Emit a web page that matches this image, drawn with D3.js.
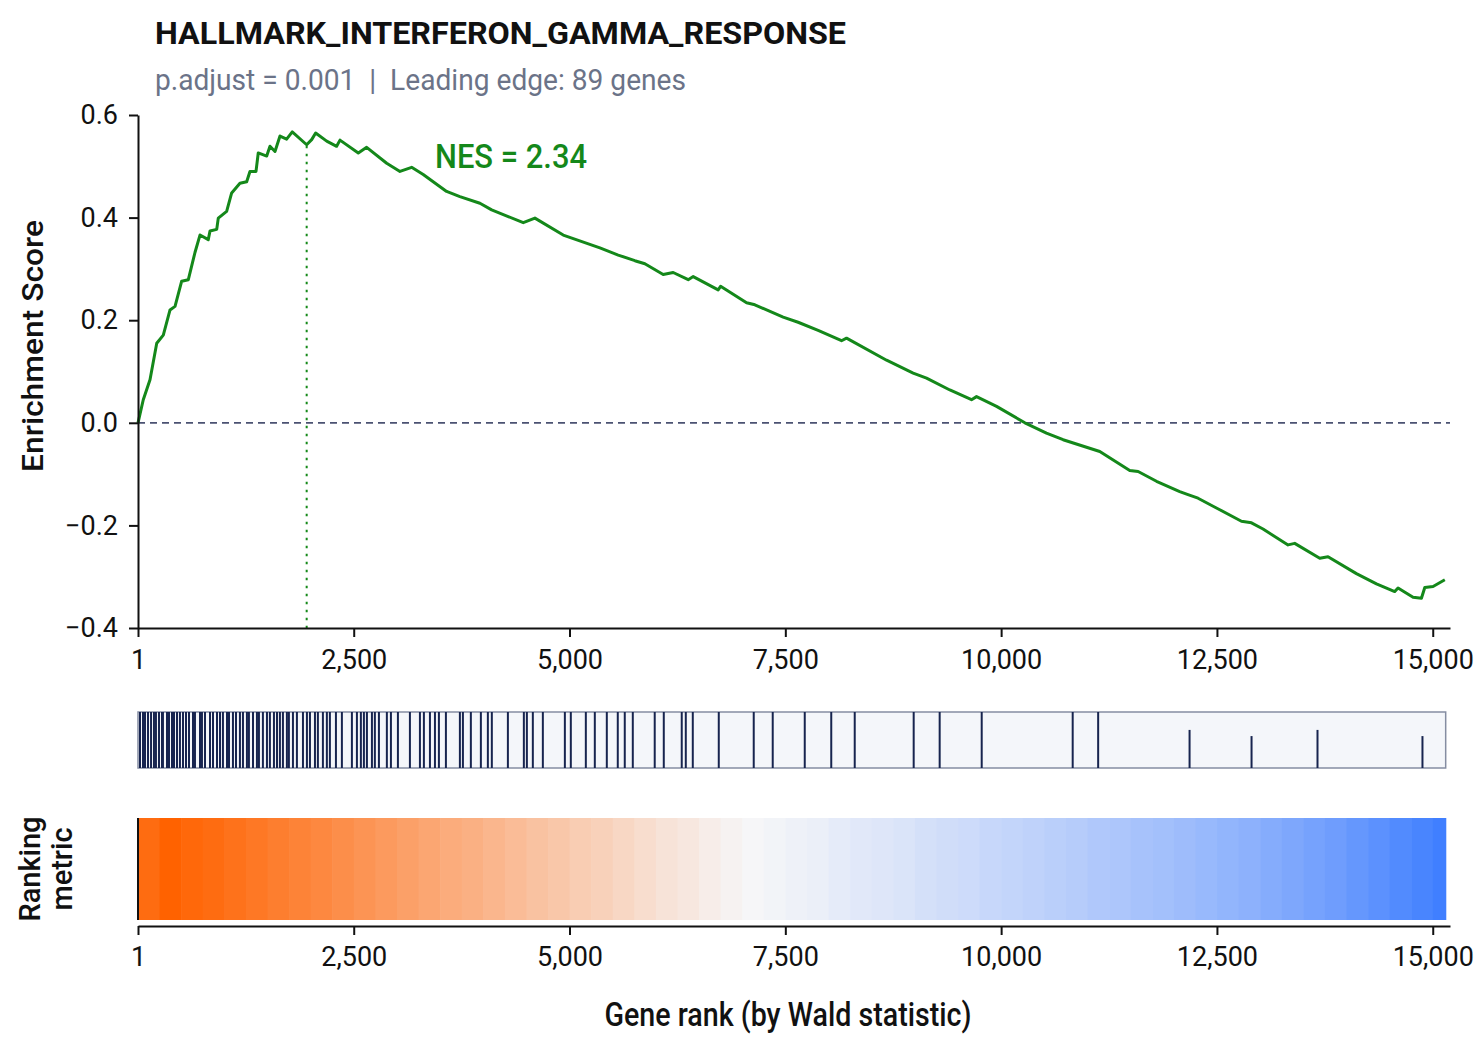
<!DOCTYPE html>
<html>
<head>
<meta charset="utf-8">
<script src="https://cdn.jsdelivr.net/npm/d3@7"></script>
<style>
  body { margin: 0; background: #ffffff; }
  svg text { fill: #111; }
</style>
</head>
<body>
<div id="vis"></div>
<script>
const FRAME_WIDTH = 1484;
const FRAME_HEIGHT = 1060;

const geneSetName = "HALLMARK_INTERFERON_GAMMA_RESPONSE";
const subtitleText = "p.adjust = 0.001  |  Leading edge: 89 genes";
const nesText = "NES = 2.34";
const nGenes = 15150;
const leadingEdgeRank = 1955;
const leadingEdgeES = 0.54;

const rankTicks = [1, 2500, 5000, 7500, 10000, 12500, 15000];
const esTicks = [-0.4, -0.2, 0, 0.2, 0.4, 0.6];

// running enrichment score
const esRank = [1, 62, 140, 218, 294, 372, 430, 507, 584, 661, 719, 815, 835, 913, 931, 1028, 1086, 1182, 1260, 1298,
  1368, 1394, 1492, 1530, 1588, 1646, 1723, 1788, 1955, 2013, 2059, 2187, 2302, 2341, 2553, 2650, 2882, 3036, 3171, 3305,
  3576, 3730, 3962, 4098, 4290, 4464, 4599, 4927, 5352, 5564, 5757, 5873, 6085, 6201, 6375, 6433, 6722, 6750, 7051, 7147,
  7475, 7648, 7880, 8151, 8209, 8673, 8981, 9136, 9406, 9657, 9715, 9947, 10275, 10525, 10718, 11143, 11490, 11587, 11800, 12069,
  12165, 12281, 12494, 12784, 12900, 13034, 13324, 13401, 13691, 13787, 14116, 14348, 14560, 14598, 14772, 14869, 14908, 15004, 15140];
const esValue = [0, 0.045, 0.084, 0.155, 0.171, 0.220, 0.227, 0.276, 0.279, 0.332, 0.366, 0.357, 0.374, 0.377, 0.399, 0.412, 0.448, 0.467, 0.470, 0.490,
  0.490, 0.526, 0.520, 0.539, 0.529, 0.559, 0.553, 0.567, 0.542, 0.552, 0.565, 0.549, 0.539, 0.551, 0.526, 0.537, 0.506, 0.490, 0.498, 0.484,
  0.451, 0.441, 0.428, 0.415, 0.402, 0.390, 0.399, 0.366, 0.341, 0.327, 0.316, 0.310, 0.289, 0.293, 0.279, 0.285, 0.259, 0.266, 0.234, 0.230,
  0.206, 0.196, 0.180, 0.160, 0.165, 0.122, 0.097, 0.087, 0.064, 0.045, 0.051, 0.032, 0.000, -0.020, -0.033, -0.056, -0.093, -0.095, -0.114, -0.134,
  -0.140, -0.147, -0.166, -0.192, -0.195, -0.207, -0.238, -0.235, -0.264, -0.261, -0.294, -0.314, -0.329, -0.322, -0.340, -0.342, -0.321, -0.319, -0.306];

// ranks of gene-set members (barcode)
const hitRanks = [24, 59, 82, 117, 152, 186, 209, 244, 279, 290, 337, 360, 395, 418, 453, 487, 522, 557, 592, 638,
  661, 719, 742, 777, 835, 870, 916, 951, 985, 1032, 1055, 1101, 1136, 1182, 1217, 1263, 1286, 1333, 1379, 1402,
  1448, 1495, 1529, 1576, 1611, 1645, 1680, 1726, 1749, 1796, 1842, 1912, 1958, 1993, 2051, 2085, 2143, 2189,
  2224, 2294, 2363, 2479, 2537, 2583, 2618, 2653, 2711, 2745, 2792, 2884, 2931, 3012, 3151, 3267, 3313, 3383,
  3441, 3487, 3568, 3730, 3765, 3857, 3973, 4054, 4100, 4286, 4471, 4506, 4575, 4691, 4946, 5015, 5189, 5293,
  5432, 5559, 5640, 5733, 5987, 6092, 6300, 6347, 6428, 6729, 7134, 7354, 7725, 8032, 8304, 8987, 9288, 9775,
  10829, 11124];
// tail members drawn as partial-height marks
const tailHitRanks = [12183, 12901, 13665, 14881];
const tailHitHeight = [0.68, 0.57, 0.68, 0.57];

// ranking metric, averaged per 250-gene bin
const metricBinSize = 250;
const metricBins = [0.93, 1.00, 0.96, 0.93, 0.89, 0.85, 0.81, 0.78, 0.74, 0.70, 0.66, 0.62, 0.58, 0.54, 0.50, 0.47,
  0.43, 0.39, 0.35, 0.32, 0.28, 0.25, 0.21, 0.17, 0.13, 0.10, 0.06, 0.03, 0.00, -0.02, -0.04, -0.06, -0.09, -0.11,
  -0.13, -0.15, -0.18, -0.20, -0.22, -0.25, -0.27, -0.29, -0.32, -0.34, -0.37, -0.39, -0.42, -0.44, -0.47, -0.50,
  -0.53, -0.56, -0.60, -0.64, -0.68, -0.72, -0.77, -0.82, -0.87, -0.92, -0.97];

const svg = d3.select("#vis")
  .append("svg")
    .attr("width", FRAME_WIDTH)
    .attr("height", FRAME_HEIGHT)
    .style("font-family", "Roboto, sans-serif");

const x = d3.scaleLinear().domain([1, 15200]).range([138, 1450]);
const y = d3.scaleLinear().domain([-0.4, 0.6]).range([628, 115]);

// titles
svg.append("text")
  .attr("x", 155).attr("y", 44)
  .attr("font-size", 32).attr("font-weight", 700)
  .attr("textLength", 691).attr("lengthAdjust", "spacingAndGlyphs")
  .text(geneSetName);

svg.append("text")
  .attr("x", 155).attr("y", 90)
  .attr("font-size", 29)
  .attr("textLength", 531).attr("lengthAdjust", "spacingAndGlyphs")
  .style("fill", "#6b7388")
  .style("white-space", "pre")
  .text(subtitleText);

// top panel: enrichment score
svg.append("line")
  .attr("x1", x(1)).attr("x2", 1450)
  .attr("y1", y(0)).attr("y2", y(0))
  .attr("stroke", "#4b5272").attr("stroke-width", 1.8)
  .attr("stroke-dasharray", "7,5");

svg.append("line")
  .attr("x1", x(leadingEdgeRank)).attr("x2", x(leadingEdgeRank))
  .attr("y1", y(leadingEdgeES)).attr("y2", y(-0.4))
  .attr("stroke", "#16891a").attr("stroke-width", 2)
  .attr("stroke-dasharray", "2.5,5.5");

const esLine = d3.line()
  .x(d => x(esRank[d]))
  .y(d => y(esValue[d]));

svg.append("path")
  .datum(d3.range(esRank.length))
  .attr("d", esLine)
  .attr("fill", "none")
  .attr("stroke", "#14881a")
  .attr("stroke-width", 3)
  .attr("stroke-linejoin", "round");

svg.append("text")
  .attr("x", 435).attr("y", 168)
  .attr("font-size", 34).attr("font-weight", 500)
  .attr("textLength", 152).attr("lengthAdjust", "spacingAndGlyphs")
  .style("fill", "#14881a")
  .text(nesText);

function styleAxis(g) {
  g.select(".domain").attr("stroke", "#111").attr("stroke-width", 2);
  g.selectAll(".tick line").attr("stroke", "#111").attr("stroke-width", 2);
  g.selectAll(".tick text")
    .style("font-family", "Roboto, sans-serif")
    .attr("font-size", 27)
    .style("fill", "#111");
}

svg.append("g")
  .attr("transform", "translate(138,0)")
  .call(d3.axisLeft(y).tickValues(esTicks).tickSize(9).tickSizeOuter(0).tickPadding(11)
    .tickFormat(d3.format(".1f")))
  .call(styleAxis);

svg.append("g")
  .attr("transform", "translate(0,628)")
  .call(d3.axisBottom(x).tickValues(rankTicks).tickSize(9).tickSizeOuter(0).tickPadding(13)
    .tickFormat(d3.format(",")))
  .call(styleAxis);

svg.append("text")
  .attr("transform", "translate(43,346) rotate(-90)")
  .attr("text-anchor", "middle")
  .attr("font-size", 30).attr("font-weight", 500)
  .attr("textLength", 252).attr("lengthAdjust", "spacingAndGlyphs")
  .text("Enrichment Score");

// middle panel: barcode of gene-set members
const BAR_TOP = 712;
const BAR_H = 56;

svg.append("rect")
  .attr("x", x(1)).attr("y", BAR_TOP)
  .attr("width", x(nGenes) - x(1)).attr("height", BAR_H)
  .attr("fill", "#f4f6fa")
  .attr("stroke", "#858da2").attr("stroke-width", 1.5);

svg.append("g")
  .selectAll("line")
  .data(hitRanks)
  .join("line")
    .attr("x1", d => x(d)).attr("x2", d => x(d))
    .attr("y1", BAR_TOP).attr("y2", BAR_TOP + BAR_H)
    .attr("stroke", "#17244f").attr("stroke-width", 2);

svg.append("g")
  .selectAll("line")
  .data(tailHitRanks)
  .join("line")
    .attr("x1", d => x(d)).attr("x2", d => x(d))
    .attr("y1", (d, i) => BAR_TOP + BAR_H * (1 - tailHitHeight[i])).attr("y2", BAR_TOP + BAR_H)
    .attr("stroke", "#17244f").attr("stroke-width", 2);

// bottom panel: ranking metric colour strip
const STRIP_TOP = 818;
const STRIP_H = 102;
const metricColor = d3.scaleLinear()
  .domain([-1, 0, 1])
  .range(["#3a7bff", "#f6f6f8", "#ff6200"]);

svg.append("g")
  .selectAll("rect")
  .data(metricBins)
  .join("rect")
    .attr("x", (d, i) => x(1 + i * metricBinSize))
    .attr("y", STRIP_TOP)
    .attr("width", (d, i) => x(Math.min(nGenes, 1 + (i + 1) * metricBinSize)) - x(1 + i * metricBinSize) + 0.6)
    .attr("height", STRIP_H)
    .attr("fill", d => metricColor(d));

svg.append("line")
  .attr("x1", 138).attr("x2", 138)
  .attr("y1", STRIP_TOP).attr("y2", STRIP_TOP + STRIP_H)
  .attr("stroke", "#111").attr("stroke-width", 2);

svg.append("g")
  .attr("transform", "translate(0,926)")
  .call(d3.axisBottom(x).tickValues(rankTicks).tickSize(9).tickSizeOuter(0).tickPadding(12)
    .tickFormat(d3.format(",")))
  .call(styleAxis);

const rankLabel = svg.append("text")
  .attr("transform", "translate(40," + (STRIP_TOP + STRIP_H / 2) + ") rotate(-90)")
  .attr("text-anchor", "middle")
  .attr("font-size", 29).attr("font-weight", 500);
rankLabel.append("tspan").attr("x", 0).attr("dy", 0).text("Ranking");
rankLabel.append("tspan").attr("x", 0).attr("dy", 32).text("metric");

svg.append("text")
  .attr("x", 788).attr("y", 1026)
  .attr("text-anchor", "middle")
  .attr("font-size", 34).attr("font-weight", 500)
  .attr("textLength", 367).attr("lengthAdjust", "spacingAndGlyphs")
  .text("Gene rank (by Wald statistic)");
</script>
</body>
</html>
